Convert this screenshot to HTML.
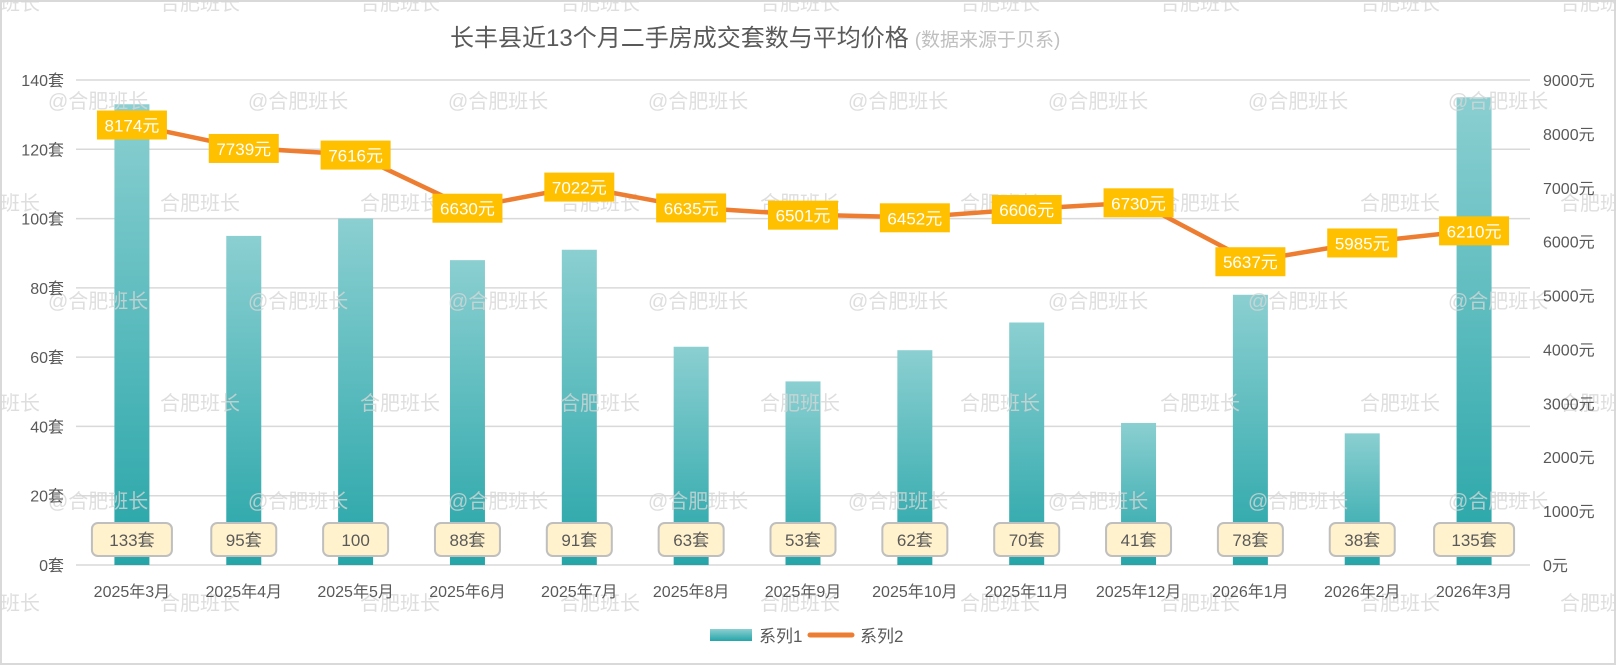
<!DOCTYPE html>
<html><head><meta charset="utf-8"><style>
body{margin:0;background:#fff;}
svg text{font-family:"Liberation Sans","Noto Sans CJK SC",sans-serif;}
</style></head><body>
<svg id="chart" width="1616" height="666" viewBox="0 0 1616 666" xmlns="http://www.w3.org/2000/svg">
<defs>
<linearGradient id="bg" x1="0" y1="0" x2="0" y2="1"><stop offset="0" stop-color="#8BCFD1"/><stop offset="1" stop-color="#26A5A8"/></linearGradient>
</defs>
<rect x="1" y="1" width="1614" height="663" fill="#fff" stroke="#d9d9d9" stroke-width="2"/>
<g id="grid"></g>
<g id="bars"></g>
<g id="wm"></g>
<g id="line"></g>
<g id="labels"></g>
<g id="axes"></g>
<text x="450" y="46" font-size="24" fill="#595959">长丰县近13个月二手房成交套数与平均价格<tspan font-size="19" fill="#bfbfbf" dx="6">(数据来源于贝系)</tspan></text>
<g>
<rect x="710" y="629" width="42" height="12" fill="url(#bg)"/>
<text x="759" y="642" font-size="17" fill="#595959">系列1</text>
<line x1="810" y1="635" x2="852" y2="635" stroke="#ED7D31" stroke-width="5" stroke-linecap="round"/>
<text x="860" y="642" font-size="17" fill="#595959">系列2</text>
</g>
</svg>
<script>
const categories=["2025年3月","2025年4月","2025年5月","2025年6月","2025年7月","2025年8月","2025年9月","2025年10月","2025年11月","2025年12月","2026年1月","2026年2月","2026年3月"];
const counts=[133,95,100,88,91,63,53,62,70,41,78,38,135];
const countLabels=["133套","95套","100","88套","91套","63套","53套","62套","70套","41套","78套","38套","135套"];
const prices=[8174,7739,7616,6630,7022,6635,6501,6452,6606,6730,5637,5985,6210];
const leftTicks=[0,20,40,60,80,100,120,140];
const rightTicks=[0,1000,2000,3000,4000,5000,6000,7000,8000,9000];

const NS="http://www.w3.org/2000/svg";
const X0=76,X1=1530,Y0=565,Y1=80;
const step=(X1-X0)/categories.length;
const xc=i=>X0+step*(i+0.5);
const yL=v=>Y0-(v/140)*(Y0-Y1);
const yR=v=>Y0-(v/9000)*(Y0-Y1);
function mk(tag,attrs,parent,txt){const e=document.createElementNS(NS,tag);for(const k in attrs)e.setAttribute(k,attrs[k]);if(txt!==undefined)e.textContent=txt;parent.appendChild(e);return e;}
const g=id=>document.getElementById(id);

const wm=g('wm');
for(let r=0;r<3;r++)for(let c=0;c<8;c++){const t=mk('text',{x:48+c*200,y:108+r*200,'font-size':20,fill:'#d6d6d6','fill-opacity':0.8},wm,'@合肥班长');}
for(let r=0;r<4;r++)for(let c=-1;c<8;c++){const t=mk('text',{x:160+c*200,y:10+r*200,'font-size':20,fill:'#d6d6d6','fill-opacity':0.8},wm,'合肥班长');}

leftTicks.forEach(v=>{const l=mk('line',{x1:X0,x2:X1,y1:yL(v),y2:yL(v),stroke:'#d9d9d9','stroke-width':1.5},g('grid'));
const t=mk('text',{x:64,y:yL(v)+6,'font-size':16,fill:'#595959','text-anchor':'end'},g('axes'),v+'套');});
rightTicks.forEach(v=>{const t=mk('text',{x:1543,y:yR(v)+6,'font-size':16,fill:'#595959'},g('axes'),v+'元');});

counts.forEach((v,i)=>{const b=mk('rect',{x:xc(i)-17.5,y:yL(v),width:35,height:Y0-yL(v),fill:'url(#bg)'},g('bars'));
const t=mk('text',{x:xc(i),y:597,'font-size':16,fill:'#595959','text-anchor':'middle'},g('axes'),categories[i]);
const w=countLabels[i].length*15+20;
const r=mk('rect',{x:xc(i)-w/2,y:523,width:w,height:33,rx:6,fill:'#FFF2CC',stroke:'#bfbfbf','stroke-width':2},g('labels'));
const tt=mk('text',{x:xc(i),y:546,'font-size':17,fill:'#595959','text-anchor':'middle'},g('labels'),countLabels[i]);});

const p=mk('polyline',{points:prices.map((v,i)=>xc(i)+','+yR(v)).join(' '),fill:'none',stroke:'#ED7D31','stroke-width':4.5,'stroke-linejoin':'round','stroke-linecap':'round'},g('line'));

prices.forEach((v,i)=>{const r=mk('rect',{x:xc(i)-35,y:yR(v)-14,width:70,height:29,fill:'#FFC000'},g('labels'));
const t=mk('text',{x:xc(i),y:yR(v)+7,'font-size':17,fill:'#fff','text-anchor':'middle'},g('labels'),v+'元');});
</script>
</body></html>
